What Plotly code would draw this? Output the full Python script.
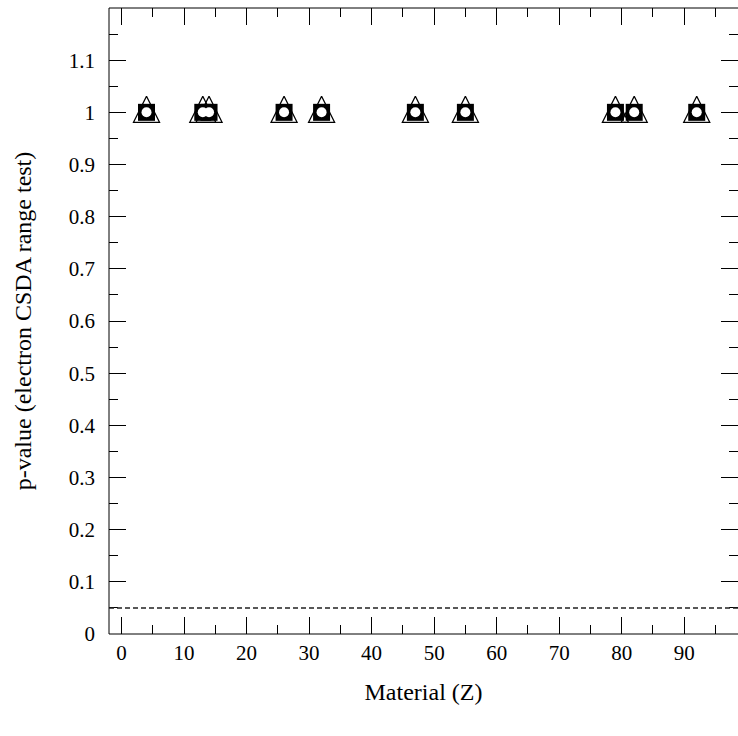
import plotly.graph_objects as go

# Data
Z = [4, 13, 14, 26, 32, 47, 55, 79, 82, 92]
p_triangle = [1.0, 1.0, 1.0, 1.0, 1.0, 1.0, 1.0, 1.0, 1.0, 1.0]
p_square = [1.0, 1.0, 1.0, 1.0, 1.0, 1.0, 1.0, 1.0, 1.0, 1.0]
p_circle = [1.0, 1.0, 1.0, 1.0, 1.0, 1.0, 1.0, 1.0, 1.0, 1.0]
alpha = 0.05

x_ticks = [0, 10, 20, 30, 40, 50, 60, 70, 80, 90]
y_ticks = [0, 0.1, 0.2, 0.3, 0.4, 0.5, 0.6, 0.7, 0.8, 0.9, 1.0, 1.1]
y_ticklabels = ["0", "0.1", "0.2", "0.3", "0.4", "0.5", "0.6", "0.7", "0.8", "0.9", "1", "1.1"]

X_RANGE = [-2, 98.6]
Y_RANGE = [0, 1.2]
PLOT_H = 626
TRI_SHIFT = 16.0 / (PLOT_H / (Y_RANGE[1] - Y_RANGE[0]))  # apex of ROOT-style triangle sits above point

FONT = "Liberation Serif"

fig = go.Figure()

fig.add_trace(go.Scatter(
    x=Z, y=p_triangle, mode="markers", yaxis="y2",
    marker=dict(symbol="arrow-up-open", size=26, color="black",
                line=dict(color="black", width=1.3)),
    showlegend=False, hoverinfo="skip"))
fig.add_trace(go.Scatter(
    x=Z, y=p_square, mode="markers", yaxis="y3",
    marker=dict(symbol="square", size=17, color="black", line=dict(width=0)),
    showlegend=False))
fig.add_trace(go.Scatter(
    x=Z, y=p_circle, mode="markers", yaxis="y3",
    marker=dict(symbol="circle", size=10, color="white", line=dict(width=0)),
    showlegend=False))

fig.update_layout(
    width=738, height=736,
    margin=dict(l=109, r=0, t=8, b=102),
    paper_bgcolor="white", plot_bgcolor="white",
    font=dict(family=FONT, color="black", size=21),
    xaxis=dict(
        range=X_RANGE, showgrid=False, zeroline=False, showline=False,
        mirror="ticks", ticks="inside", ticklen=17, tickwidth=1, tickcolor="black",
        tickvals=x_ticks, ticktext=[str(v) for v in x_ticks],
        tickfont=dict(family=FONT, size=21), ticklabelstandoff=4,
        minor=dict(dtick=5, tick0=0, ticks="inside", ticklen=9, tickwidth=1, tickcolor="black"),
        title=dict(text="Material (Z)", font=dict(family=FONT, size=24), standoff=19),
    ),
    yaxis=dict(
        range=Y_RANGE, showgrid=False, zeroline=False, showline=False,
        mirror="ticks", ticks="inside", ticklen=17, tickwidth=1, tickcolor="black",
        tickvals=y_ticks, ticktext=y_ticklabels,
        tickfont=dict(family=FONT, size=21), ticklabelstandoff=13,
        minor=dict(dtick=0.05, tick0=0, ticks="inside", ticklen=9, tickwidth=1, tickcolor="black"),
        title=dict(text="p-value (electron CSDA range test)", font=dict(family=FONT, size=24), standoff=30),
    ),
    yaxis2=dict(
        overlaying="y", range=[Y_RANGE[0] - TRI_SHIFT, Y_RANGE[1] - TRI_SHIFT],
        visible=False, showgrid=False, zeroline=False,
    ),
    yaxis3=dict(
        overlaying="y", range=Y_RANGE,
        visible=False, showgrid=False, zeroline=False,
    ),
    shapes=[
        dict(type="rect", xref="paper", yref="paper", x0=0, x1=1.05, y0=0, y1=1,
             line=dict(color="black", width=1), fillcolor="rgba(0,0,0,0)", layer="above"),
        dict(type="line", xref="paper", yref="y", x0=0, x1=1, y0=alpha, y1=alpha,
             line=dict(color="#222222", width=1.5, dash="5px,3px")),
    ],
)

fig.write_html("out.html")
